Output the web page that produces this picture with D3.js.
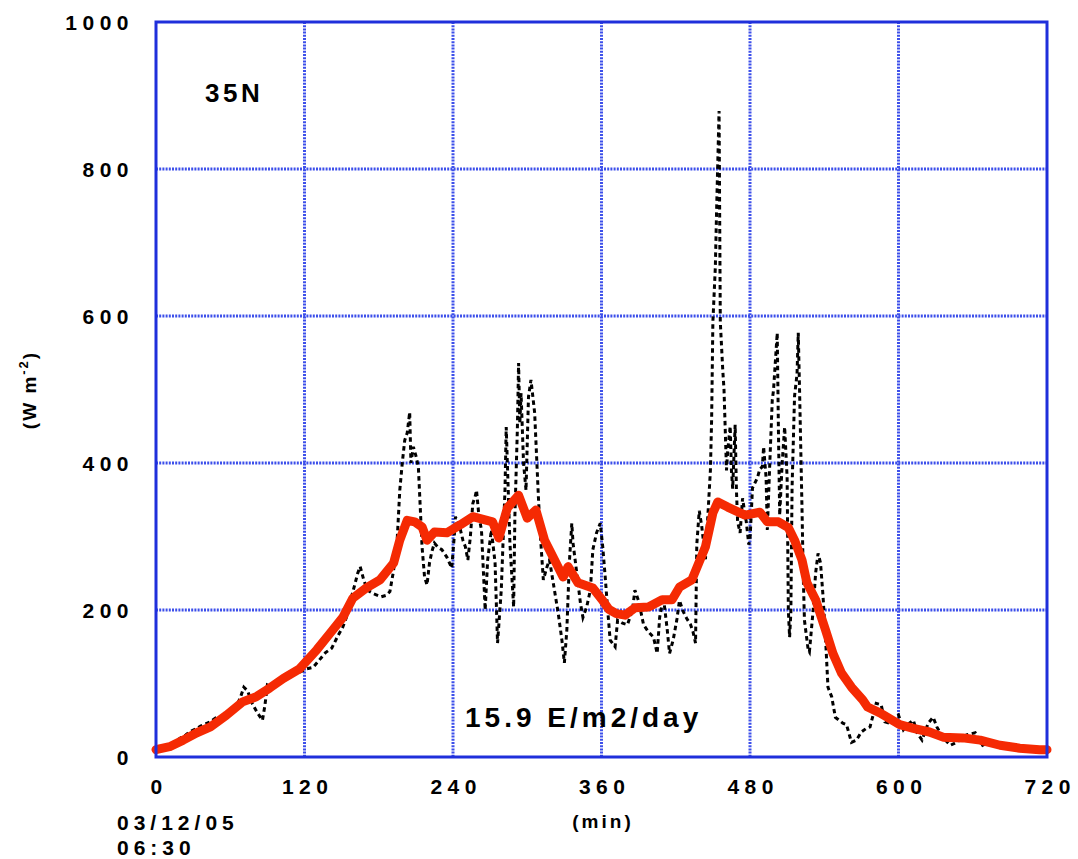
<!DOCTYPE html>
<html>
<head>
<meta charset="utf-8">
<script src="https://cdn.jsdelivr.net/npm/d3@7"></script>
<style>
  html, body { margin: 0; padding: 0; background: #fff; }
  svg { display: block; }
  .lbl { font-family: "Liberation Sans", Arial, sans-serif; font-weight: bold; fill: #000; }
</style>
</head>
<body>
<svg id="chart" width="1078" height="859"></svg>
<script>
// Irradiance time series, minutes after 06:30 on 03/12/05 (35N).
// Raw observations (dotted trace)
const rawMinutes = [0,4,8,12,16,20,24,28,32,36,40,44,48,52,56,60,64,68,71,74,78,82,86,88,90,94,98,102,106,110,114,118,122,127,132,137,142,147,151,155,158,161,163,165,168,171,176,182,186,189,192,195,197,199,201,203,205,206,208,210,212,213,215,217,219,221,223,225,228,231,235,239,241,242,244,246,248,250,252,254,256,258,259,261,263,265,266,268,271,274,276,279,282,283,286,289,290,292,293,294,295,297,299,301,303,306,309,311,313,316,318,321,325,328,330,332,334,336,337,341,343,345,348,351,353,356,359,361,363,365,367,371,373,377,381,385,387,390,394,398,402,405,407,410,413,415,418,421,423,426,429,432,434,436,437,439,441,444,446,448,449,450,452,453,455,456,458,459,461,462,464,465,466,468,469,470,472,474,476,477,479,480,482,486,488,490,491,493,494,496,498,499,502,503,504,506,508,510,511,512,513,514,516,518,519,520,522,523,524,527,528,531,533,535,537,539,541,543,546,549,552,555,558,562,566,570,574,577,582,586,589,593,600,604,608,612,615,619,624,628,631,636,642,647,655,662,668,676,682,688,695,701,707,712,720];
const rawValues  = [10,12,15,18,22,26,30,35,38,42,45,48,53,55,57,60,66,80,95,90,72,60,50,70,98,95,100,105,108,112,114,117,120,122,132,142,148,165,177,195,218,237,250,259,240,227,222,218,220,225,254,299,363,400,431,441,469,400,422,410,395,359,286,245,234,264,280,291,285,282,272,257,300,327,315,309,295,286,268,299,345,355,363,327,309,237,200,268,309,264,155,227,363,449,291,204,327,445,536,454,495,400,363,490,513,468,354,291,241,259,268,237,196,159,128,173,264,318,291,237,209,190,204,227,282,305,318,286,245,200,159,150,186,182,180,200,227,212,180,170,163,141,190,218,175,141,160,188,213,198,188,180,170,155,289,335,314,269,330,390,460,592,667,743,879,592,526,500,390,417,450,390,365,452,365,320,305,352,330,320,289,295,366,380,392,395,422,380,309,400,486,499,577,441,329,400,449,380,199,163,196,367,491,521,577,503,340,249,186,146,143,199,250,277,264,219,163,95,82,54,50,46,44,20,23,34,39,41,73,71,48,46,57,37,45,50,33,23,46,54,41,26,16,20,30,33,16,23,17,16,12,7,9,10,10];

// Running mean (thick red trace)
const meanMinutes = [0,11,22,33,44,57,70,81,92,103,116,130,141,151,159,170,181,192,197,203,209,215,219,225,235,246,256,272,277,284,293,300,307,314,329,333,341,353,360,366,372,379,387,398,409,417,423,433,444,450,454,462,476,488,494,503,511,516,522,526,533,541,547,554,562,571,575,585,601,612,625,636,652,666,682,698,714,720];
const meanValues  = [10,14,23,33,41,57,75,82,94,107,120,146,169,190,216,230,241,264,295,322,320,313,295,306,305,316,327,320,298,339,356,325,336,295,245,259,237,230,215,201,195,193,203,204,214,214,231,241,286,332,347,340,329,333,320,320,312,295,268,237,214,173,141,114,95,78,68,60,44,39,34,27,26,23,16,12,10,10];

const xTicks = [0,120,240,360,480,600,720];
const yTicks = [0,200,400,600,800,1000];

const margin = {left: 156, top: 22, right: 1078 - 1047, bottom: 859 - 757};
const W = 1078, H = 859;
const svg = d3.select("#chart");

const x = d3.scaleLinear().domain([0, 720]).range([margin.left, W - margin.right]);
const y = d3.scaleLinear().domain([0, 1000]).range([H - margin.bottom, margin.top]);

const gridColor = "#3c4fea";
const frameColor = "#1f2fdb";

// grid lines
const grid = svg.append("g");
grid.selectAll("line.gx").data(xTicks.slice(1, -1)).join("line")
  .attr("x1", d => x(d)).attr("x2", d => x(d))
  .attr("y1", y(1000)).attr("y2", y(0))
  .attr("stroke", gridColor).attr("stroke-width", 3)
  .attr("stroke-dasharray", "2,1.2");
grid.selectAll("line.gy").data(yTicks.slice(1, -1)).join("line")
  .attr("x1", x(0)).attr("x2", x(720))
  .attr("y1", d => y(d)).attr("y2", d => y(d))
  .attr("stroke", gridColor).attr("stroke-width", 3)
  .attr("stroke-dasharray", "2,1.2");

// raw dotted trace
const raw = rawMinutes.map((m, i) => [m, rawValues[i]]);
const mean = meanMinutes.map((m, i) => [m, meanValues[i]]);
const line = d3.line().x(d => x(d[0])).y(d => y(d[1]));

svg.append("path").datum(raw)
  .attr("d", line)
  .attr("fill", "none").attr("stroke", "#000")
  .attr("stroke-width", 3).attr("stroke-dasharray", "4.5,3.5");

svg.append("path").datum(mean)
  .attr("d", line)
  .attr("fill", "none").attr("stroke", "#f52a03")
  .attr("stroke-width", 9).attr("stroke-linejoin", "round").attr("stroke-linecap", "round");

// frame
svg.append("rect")
  .attr("x", x(0)).attr("y", y(1000))
  .attr("width", x(720) - x(0)).attr("height", y(0) - y(1000))
  .attr("fill", "none").attr("stroke", frameColor).attr("stroke-width", 3);

// axes (labels only; frame drawn above)
const yAxis = d3.axisLeft(y).tickValues(yTicks).tickSize(0).tickPadding(22).tickFormat(d3.format("d"));
const gy = svg.append("g").attr("transform", `translate(${x(0)},0)`).call(yAxis);
gy.select(".domain").remove();
gy.selectAll("text").attr("class", "lbl").style("font-size", "21px").style("letter-spacing", "5.5px")
  .attr("dy", "0.36em");

const xAxis = d3.axisBottom(x).tickValues(xTicks).tickSize(0).tickPadding(22).tickFormat(d3.format("d"));
const gx = svg.append("g").attr("transform", `translate(0,${y(0)})`).call(xAxis);
gx.select(".domain").remove();
gx.selectAll("text").attr("class", "lbl").style("font-size", "21px").style("letter-spacing", "5.5px")
  .attr("dx", "2.7px");

// titles and annotations
svg.append("text").attr("class", "lbl").attr("x", 603).attr("y", 828)
  .attr("text-anchor", "middle").style("font-size", "19px").style("letter-spacing", "3px").text("(min)");
svg.append("text").attr("class", "lbl").attr("x", 117).attr("y", 830)
  .style("font-size", "21px").style("letter-spacing", "5px").text("03/12/05");
svg.append("text").attr("class", "lbl").attr("x", 117).attr("y", 855)
  .style("font-size", "21px").style("letter-spacing", "5px").text("06:30");

const yl = svg.append("text").attr("class", "lbl")
  .attr("transform", "translate(36,390) rotate(-90)")
  .attr("text-anchor", "middle").style("font-size", "19px").style("letter-spacing", "2px");
yl.append("tspan").text("(W m");
yl.append("tspan").attr("dy", "-8").style("font-size", "13px").text("-2");
yl.append("tspan").attr("dy", "8").text(")");

svg.append("text").attr("class", "lbl").attr("x", 205).attr("y", 102)
  .style("font-size", "26px").style("letter-spacing", "3.5px").text("35N");
svg.append("text").attr("class", "lbl").attr("x", 465).attr("y", 727)
  .style("font-size", "28px").style("letter-spacing", "4px").text("15.9 E/m2/day");
</script>
</body>
</html>
